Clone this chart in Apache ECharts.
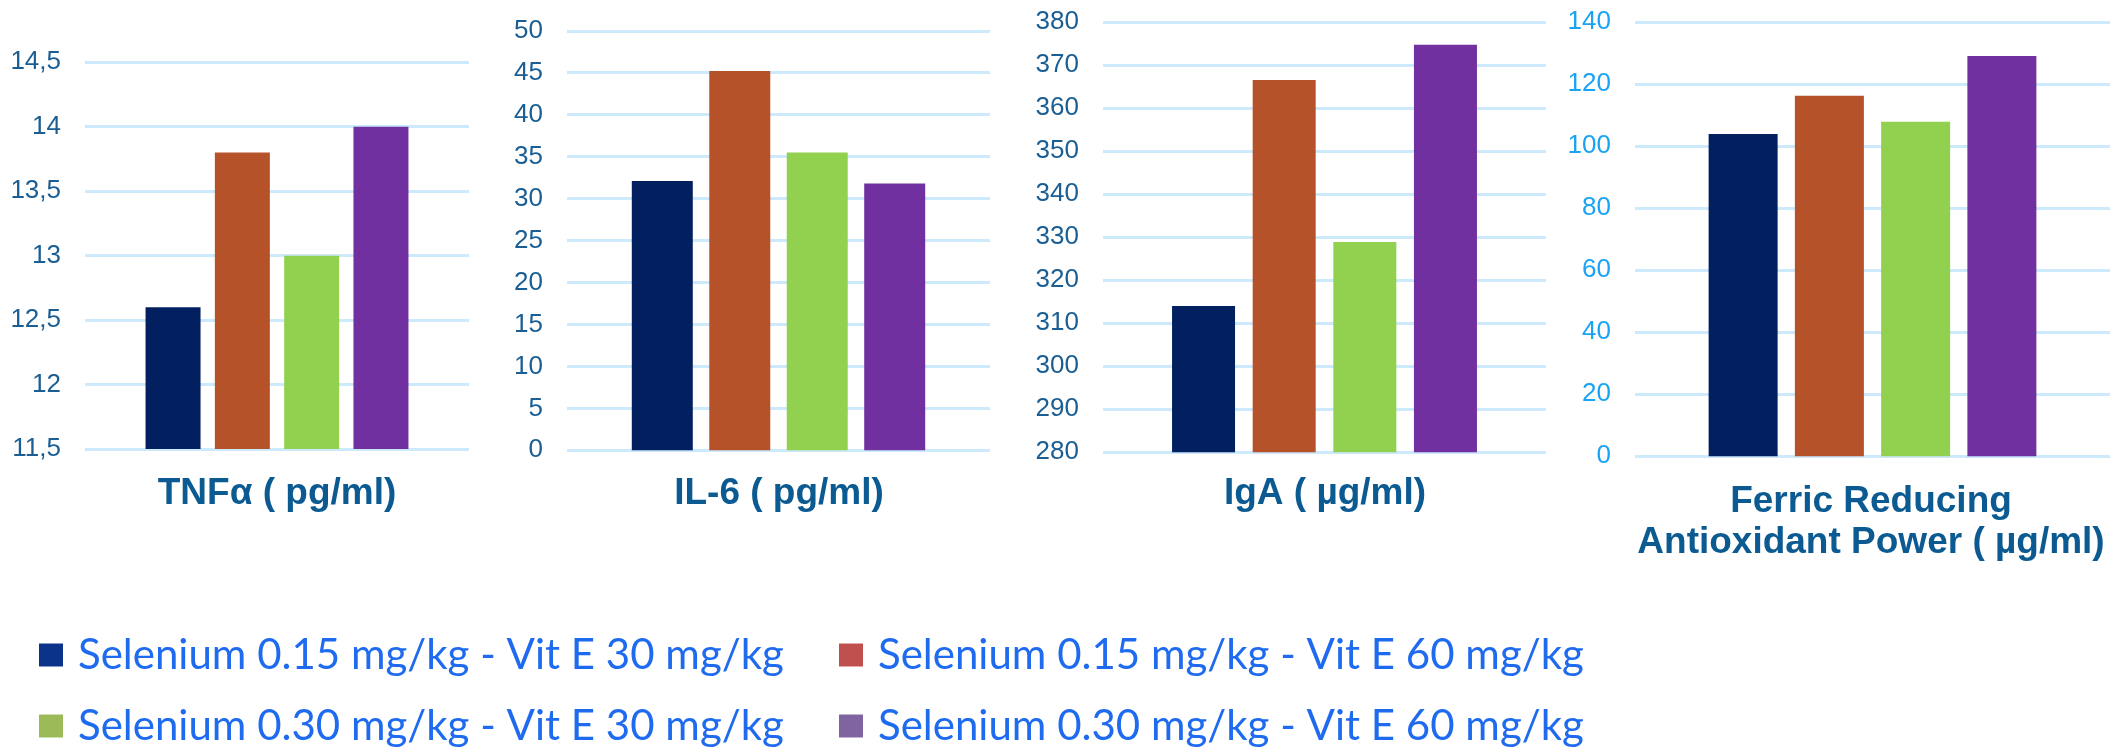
<!DOCTYPE html>
<html>
<head>
<meta charset="utf-8">
<script src="https://cdn.jsdelivr.net/npm/echarts@6/dist/echarts.min.js"></script>
<style>
  html, body { margin: 0; padding: 0; background: #ffffff; }
  #chart { width: 2121px; height: 747px; }
</style>
</head>
<body>
<div id="chart"></div>
<script>
// Treatment groups (one bar per group in every panel)
const groups = [
  'Selenium 0.15 mg/kg - Vit E 30 mg/kg',
  'Selenium 0.15 mg/kg - Vit E 60 mg/kg',
  'Selenium 0.30 mg/kg - Vit E 30 mg/kg',
  'Selenium 0.30 mg/kg - Vit E 60 mg/kg'
];

// Measured values per panel, in group order
const tnfValues  = [12.6, 13.8, 13.0, 14.0];
const il6Values  = [32.1, 45.2, 35.5, 31.8];
const igaValues  = [314.0, 366.5, 328.9, 374.7];
const frapValues = [104.0, 116.3, 107.9, 129.1];

// Panel titles
const panelTitles = [
  'TNFα ( pg/ml)',
  'IL-6 ( pg/ml)',
  'IgA ( µg/ml)',
  'Ferric Reducing\nAntioxidant Power ( µg/ml)'
];

// Value axis ranges: [min, max, interval]
const axisRanges = [
  [11.5, 14.5, 0.5],
  [0, 50, 5],
  [280, 380, 10],
  [0, 140, 20]
];

const panelValues = [tnfValues, il6Values, igaValues, frapValues];

// Styling
const barColors    = ['#022060', '#B5522A', '#92D050', '#70309F'];
const legendColors = ['#0A3389', '#C0504D', '#9BBB59', '#8064A2'];
const tickColors   = ['#1A5E93', '#1A5E93', '#1A5E93', '#1AA3F5'];
const titleColor   = '#0B5A91';
const gridColor    = '#CDE9FC';

// Plot-area boxes for the four panels
const grids = [
  { left: 85,   top: 62.3, width: 384, height: 386.7 },
  { left: 567,  top: 30.8, width: 423, height: 419.5 },
  { left: 1103, top: 22,   width: 443, height: 430.3 },
  { left: 1635, top: 22.3, width: 475, height: 434 }
];
const barWidths = [55, 61, 63, 69];
const barGaps   = ['26%', '27%', '28%', '25%'];
const titlePos  = [
  { x: 277,  y: 473.5 },
  { x: 779,  y: 473.5 },
  { x: 1325, y: 473.5 },
  { x: 1871, y: 481 }
];

const xAxes = [], yAxes = [], series = [], titles = [];

grids.forEach((g, i) => {
  xAxes.push({
    type: 'category', gridIndex: i, data: [''],
    axisLine: { show: false }, axisTick: { show: false },
    axisLabel: { show: false }, splitLine: { show: false }
  });
  const [mn, mx, step] = axisRanges[i];
  yAxes.push({
    type: 'value', gridIndex: i, min: mn, max: mx, interval: step,
    axisLine: { show: false }, axisTick: { show: false },
    splitLine: { show: true, lineStyle: { color: gridColor, width: 3 } },
    axisLabel: {
      margin: 24,
      color: tickColors[i],
      fontFamily: 'Liberation Sans, Arial, sans-serif',
      fontSize: 26,
      formatter: v => String(v).replace('.', ',')
    }
  });
  groups.forEach((name, k) => {
    series.push({
      type: 'bar', name: name,
      xAxisIndex: i, yAxisIndex: i,
      data: [panelValues[i][k]],
      barWidth: barWidths[i],
      barGap: barGaps[i],
      itemStyle: { color: barColors[k] },
      emphasis: { disabled: true },
      animation: false
    });
  });
  titles.push({
    text: panelTitles[i],
    left: titlePos[i].x, top: titlePos[i].y,
    textAlign: 'center', padding: 0,
    textStyle: {
      fontFamily: 'Liberation Sans, Arial, sans-serif',
      fontWeight: 'bold', fontSize: 37, lineHeight: 41,
      color: titleColor
    }
  });
});

// Legend: 2 x 2 block, one legend component per entry
const legendSlots = [
  { left: 39,  top: 655 },
  { left: 839, top: 655 },
  { left: 39,  top: 726 },
  { left: 839, top: 726 }
];
const legends = groups.map((name, k) => ({
  left: legendSlots[k].left,
  top: legendSlots[k].top - 23,
  padding: 0,
  orient: 'horizontal',
  selectedMode: false,
  icon: 'rect',
  itemWidth: 24,
  itemHeight: 23,
  data: [{ name: name, itemStyle: { color: legendColors[k] } }],
  textStyle: {
    fontFamily: 'Lato, Noto Sans, sans-serif',
    fontSize: 42,
    lineHeight: 46,
    color: '#1F6BEF',
    padding: [0, 0, 0, 10]
  }
}));

const chart = echarts.init(document.getElementById('chart'), null, { renderer: 'canvas' });
chart.setOption({
  backgroundColor: '#ffffff',
  animation: false,
  title: titles,
  legend: legends,
  grid: grids,
  xAxis: xAxes,
  yAxis: yAxes,
  series: series
});
</script>
</body>
</html>
